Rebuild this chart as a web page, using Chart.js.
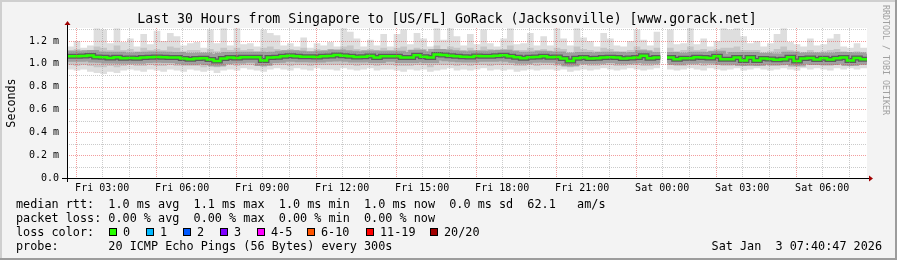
<!DOCTYPE html>
<html>
<head>
<meta charset="utf-8">
<script src="https://cdn.jsdelivr.net/npm/chart.js@4.4.1/dist/chart.umd.min.js"></script>
<style>
  html, body { margin: 0; padding: 0; background: #f3f3f3; }
  #chart { display: block; }
</style>
</head>
<body>
<canvas id="chart" width="897" height="260"></canvas>
<script>
// ─── Data (15 min bins, ms) ──────────────────────────────────────────────────

var startHour = 1.6797;   // Fri 01:40:47, hours from Fri 00:00
var endHour   = 31.6797;  // Sat 07:40:47
var binHours  = 0.25;

var medianRtt = [
  1.066,1.066,1.069,1.072,1.060,1.056,1.051,1.057,1.048,1.050,1.048,1.054,1.057,1.060,1.056,1.054,1.054,1.045,1.040,1.045,1.048,1.037,1.025,1.045,
  1.054,1.051,1.057,1.057,1.057,1.028,1.054,1.057,1.065,1.070,1.065,1.062,1.062,1.060,1.065,1.068,1.077,1.071,1.065,1.060,1.062,1.068,1.054,1.065,
  1.065,1.065,1.054,1.054,1.074,1.062,1.054,1.080,1.077,1.071,1.065,1.062,1.060,1.068,1.065,1.065,1.071,1.074,1.065,1.057,1.048,1.057,1.060,1.065,
  1.057,1.060,1.045,1.025,1.048,1.054,1.045,1.048,1.054,1.057,1.054,1.045,1.051,1.054,1.071,1.048,1.054,null,1.054,1.040,1.048,1.048,1.057,1.054,
  1.051,1.065,1.040,1.040,1.054,1.028,1.054,1.028,1.045,1.042,1.034,1.040,1.057,1.025,1.045,1.051,1.037,1.048,1.037,1.048,1.054,1.028,1.051,1.040
];

var maxRtt = [
  1.15,1.20,1.14,1.16,1.31,1.30,1.18,1.31,1.19,1.22,1.15,1.26,1.17,1.29,1.20,1.27,1.24,1.16,1.18,1.19,1.14,1.30,1.18,1.31,
  1.16,1.31,1.17,1.18,1.15,1.30,1.27,1.25,1.16,1.18,1.15,1.23,1.14,1.18,1.16,1.19,1.15,1.31,1.28,1.22,1.15,1.21,1.16,1.26,
  1.15,1.26,1.30,1.17,1.27,1.22,1.15,1.31,1.21,1.31,1.24,1.16,1.26,1.17,1.30,1.18,1.15,1.22,1.31,1.17,1.18,1.27,1.16,1.24,
  1.16,1.31,1.22,1.16,1.31,1.23,1.20,1.15,1.27,1.22,1.16,1.15,1.20,1.30,1.21,1.16,1.28,null,1.30,1.17,1.18,1.31,1.17,1.22,
  1.15,1.20,1.31,1.30,1.31,1.24,1.18,1.20,1.15,1.18,1.26,1.31,1.19,1.17,1.15,1.22,1.16,1.17,1.22,1.26,1.15,1.14,1.18,1.14
];

var minRtt = [
  0.95,0.94,0.95,0.93,0.92,0.91,0.93,0.92,0.94,0.95,0.94,0.93,0.95,0.94,0.93,0.95,0.94,0.93,0.95,0.94,0.93,0.94,0.92,0.94,
  0.95,0.94,0.96,0.95,0.94,0.93,0.95,0.96,0.95,0.94,0.96,0.95,0.94,0.96,0.95,0.95,0.94,0.96,0.95,0.94,0.95,0.96,0.94,0.95,
  0.95,0.94,0.93,0.95,0.94,0.95,0.93,0.94,0.95,0.96,0.94,0.95,0.94,0.95,0.96,0.94,0.95,0.94,0.95,0.93,0.94,0.95,0.94,0.95,
  0.95,0.94,0.95,0.93,0.94,0.95,0.94,0.95,0.96,0.95,0.94,0.95,0.96,0.95,0.94,0.95,0.96,null,0.95,0.94,0.95,0.96,0.95,0.94,
  0.96,0.95,0.94,0.95,0.96,0.94,0.95,0.96,0.95,0.94,0.95,0.96,0.95,0.94,0.96,0.95,0.96,0.95,0.94,0.96,0.95,0.96,0.95,0.96
];

var upperRtt = [
  1.12,1.13,1.11,1.12,1.15,1.14,1.12,1.16,1.12,1.13,1.11,1.14,1.12,1.13,1.12,1.15,1.14,1.11,1.12,1.12,1.10,1.13,1.11,1.14,
  1.12,1.14,1.12,1.13,1.11,1.14,1.15,1.13,1.12,1.13,1.12,1.14,1.11,1.13,1.12,1.13,1.12,1.15,1.16,1.13,1.12,1.13,1.12,1.14,
  1.12,1.14,1.15,1.12,1.14,1.13,1.11,1.16,1.13,1.15,1.14,1.12,1.14,1.12,1.15,1.13,1.12,1.13,1.16,1.12,1.12,1.14,1.12,1.13,
  1.11,1.14,1.13,1.10,1.15,1.13,1.12,1.11,1.14,1.13,1.11,1.11,1.12,1.15,1.13,1.11,1.14,null,1.14,1.11,1.12,1.15,1.12,1.13,
  1.11,1.13,1.14,1.14,1.15,1.12,1.12,1.12,1.10,1.11,1.13,1.15,1.12,1.11,1.10,1.12,1.10,1.11,1.12,1.13,1.11,1.10,1.11,1.10
];

var lowerRtt = [
  0.99,0.98,0.99,0.98,0.97,0.97,0.98,0.97,0.98,0.99,0.98,0.98,0.99,0.98,0.98,0.99,0.98,0.98,0.98,0.98,0.97,0.98,0.97,0.98,
  0.99,0.98,0.99,0.99,0.98,0.97,0.99,0.99,0.99,0.98,0.99,0.99,0.98,0.99,0.99,0.99,0.99,0.99,0.99,0.98,0.99,0.99,0.98,0.99,
  0.99,0.98,0.98,0.98,0.99,0.99,0.97,0.99,0.99,0.99,0.98,0.99,0.98,0.99,0.99,0.98,0.99,0.99,0.99,0.98,0.98,0.99,0.98,0.99,
  0.99,0.98,0.98,0.97,0.98,0.99,0.98,0.98,0.99,0.99,0.98,0.98,0.99,0.99,0.98,0.98,0.99,null,0.99,0.98,0.98,0.99,0.99,0.98,
  0.99,0.99,0.98,0.98,0.99,0.98,0.99,0.98,0.99,0.98,0.98,0.99,0.99,0.98,0.99,0.99,0.99,0.98,0.98,0.99,0.99,0.98,0.99,0.99
];

// ─── Axis ticks and texts ────────────────────────────────────────────────────

var xGridHours  = [2,3,4,5,6,7,8,9,10,11,12,13,14,15,16,17,18,19,20,21,22,23,24,25,26,27,28,29,30,31];
var xMajorHours = [2,5,8,11,14,17,20,23,26,29];
var xLabelHours = [3,6,9,12,15,18,21,24,27,30];
var xLabels     = ['Fri 03:00','Fri 06:00','Fri 09:00','Fri 12:00','Fri 15:00','Fri 18:00','Fri 21:00','Sat 00:00','Sat 03:00','Sat 06:00'];

var yGridValues = [0,0.1,0.2,0.3,0.4,0.5,0.6,0.7,0.8,0.9,1.0,1.1,1.2,1.3];
var yLabelValues = [0,0.2,0.4,0.6,0.8,1.0,1.2];
var yLabels      = ['0.0','0.2 m','0.4 m','0.6 m','0.8 m','1.0 m','1.2 m'];
var yMax = 1.313;

var titleText = 'Last 30 Hours from Singapore to [US/FL] GoRack (Jacksonville) [www.gorack.net]';
var sideText  = 'RRDTOOL / TOBI OETIKER';
var yTitle    = 'Seconds';
var legendLines = [
    'median rtt:  1.0 ms avg  1.1 ms max  1.0 ms min  1.0 ms now  0.0 ms sd  62.1   am/s',
    'packet loss: 0.00 % avg  0.00 % max  0.00 % min  0.00 % now',
    'loss color:',
    'probe:       20 ICMP Echo Pings (56 Bytes) every 300s'
];
var lossLabels = ['0','1','2','3','4-5','6-10','11-19','20/20'];
var lossColors = ['#26ff00','#00b8ff','#0059ff','#7e00ff','#ff00ff','#ff5500','#ff0000','#a10000'];
var stampText  = 'Sat Jan  3 07:40:47 2026';

// ─── Helpers ─────────────────────────────────────────────────────────────────

function binPoints(values) {
    var pts = [];
    values.forEach(function (v, k) {
        var x0 = startHour + k * binHours;
        pts.push({ x: x0, y: v });
        pts.push({ x: x0 + binHours, y: v });
    });
    return pts;
}

function near(list, v) {
    for (var i = 0; i < list.length; i++) if (Math.abs(list[i] - v) < 1e-6) return i;
    return -1;
}

var MONO = '"DejaVu Sans Mono", monospace';

// ─── rrdtool frame: background, grid, axes, texts ────────────────────────────

var rrdFrame = {
    id: 'rrdFrame',
    beforeDraw: function (chart) {
        var c = chart.ctx, a = chart.chartArea;
        c.save();
        c.fillStyle = '#f3f3f3';
        c.fillRect(0, 0, chart.width, chart.height);
        c.fillStyle = '#cfcfcf';
        c.fillRect(0, 0, chart.width, 2);
        c.fillRect(0, 0, 2, chart.height);
        c.fillStyle = '#9c9c9c';
        c.fillRect(0, chart.height - 2, chart.width, 2);
        c.fillRect(chart.width - 2, 0, 2, chart.height);
        c.fillStyle = '#ffffff';
        c.fillRect(a.left, a.top, a.right - a.left, a.bottom - a.top);
        c.restore();
    },
    afterDatasetsDraw: function (chart) {
        var c = chart.ctx, a = chart.chartArea;
        var xs = chart.scales.x, ys = chart.scales.y;
        c.save();
        c.lineWidth = 1;
        c.setLineDash([1, 1]);
        xGridHours.forEach(function (h) {
            var px = Math.round(xs.getPixelForValue(h)) + 0.5;
            c.strokeStyle = near(xMajorHours, h) >= 0 ? 'rgba(232,60,60,0.5)' : 'rgba(140,140,140,0.45)';
            c.beginPath(); c.moveTo(px, a.top); c.lineTo(px, a.bottom); c.stroke();
        });
        yGridValues.forEach(function (v) {
            var py = Math.round(ys.getPixelForValue(v)) + 0.5;
            c.strokeStyle = near(yLabelValues, v) >= 0 ? 'rgba(232,60,60,0.5)' : 'rgba(140,140,140,0.45)';
            c.beginPath(); c.moveTo(a.left, py); c.lineTo(a.right, py); c.stroke();
        });
        c.setLineDash([]);

        // axes
        var ax = Math.round(a.left) + 0.5, ay = Math.round(a.bottom) + 0.5;
        c.strokeStyle = '#000';
        c.beginPath(); c.moveTo(a.left - 5, ay); c.lineTo(a.right + 3, ay); c.stroke();
        c.beginPath(); c.moveTo(ax, a.bottom + 4); c.lineTo(ax, a.top - 4); c.stroke();
        c.fillStyle = '#a00000';
        c.beginPath(); c.moveTo(a.right + 2, ay - 3); c.lineTo(a.right + 6, ay); c.lineTo(a.right + 2, ay + 3); c.closePath(); c.fill();
        c.beginPath(); c.moveTo(ax - 3, a.top - 3); c.lineTo(ax, a.top - 7); c.lineTo(ax + 3, a.top - 3); c.closePath(); c.fill();
        c.restore();
    },
    afterDraw: function (chart) {
        var c = chart.ctx;
        c.save();
        c.fillStyle = '#000';
        c.textBaseline = 'alphabetic';

        c.font = '13.2px ' + MONO;
        c.textAlign = 'center';
        c.fillText(titleText, 447, 23);

        c.font = '11.7px ' + MONO;
        c.save();
        c.translate(15, 103);
        c.rotate(-Math.PI / 2);
        c.fillText(yTitle, 0, 0);
        c.restore();

        c.save();
        c.fillStyle = '#a0a0a0';
        c.font = '8.3px ' + MONO;
        c.translate(883, 60);
        c.rotate(Math.PI / 2);
        c.fillText(sideText, 0, 0);
        c.restore();

        c.font = '11.8px ' + MONO;
        c.textAlign = 'left';
        legendLines.forEach(function (line, i) {
            c.fillText(line, 16, 207.5 + i * 14);
        });

        var boxX = [109, 146, 183, 220, 257, 307, 366, 430];
        lossLabels.forEach(function (lab, i) {
            c.fillStyle = lossColors[i];
            c.fillRect(boxX[i], 228, 8, 8);
            c.strokeStyle = '#000';
            c.strokeRect(boxX[i] + 0.5, 228.5, 7, 7);
            c.fillStyle = '#000';
            c.fillText(lab, boxX[i] + 14, 235.5);
        });

        c.textAlign = 'right';
        c.fillText(stampText, 882, 249.5);
        c.restore();
    }
};

// ─── Chart ───────────────────────────────────────────────────────────────────

Chart.defaults.font.family = MONO;

new Chart(document.getElementById('chart'), {
    type: 'line',
    data: {
        datasets: [
            { data: binPoints(medianRtt), borderColor: '#26ff00', borderWidth: 2.5, fill: false },
            { data: binPoints(medianRtt), borderColor: 'rgba(50,50,50,0.6)', borderWidth: 5, fill: false },
            { data: binPoints(medianRtt), borderColor: 'rgba(110,110,110,0.45)', borderWidth: 11, fill: false },
            { data: binPoints(upperRtt), borderWidth: 0, borderColor: 'rgba(0,0,0,0)', backgroundColor: '#c6c6c6', fill: '+1' },
            { data: binPoints(lowerRtt), borderWidth: 0, borderColor: 'rgba(0,0,0,0)', fill: false },
            { data: binPoints(maxRtt), borderWidth: 0, borderColor: 'rgba(0,0,0,0)', backgroundColor: '#dedede', fill: '+1' },
            { data: binPoints(minRtt), borderWidth: 0, borderColor: 'rgba(0,0,0,0)', fill: false }
        ]
    },
    options: {
        responsive: false,
        animation: false,
        events: [],
        layout: { padding: { left: 0, top: 28, right: 30, bottom: 0 } },
        elements: { point: { radius: 0 }, line: { tension: 0, borderJoinStyle: 'miter', borderCapStyle: 'butt' } },
        plugins: { legend: { display: false }, tooltip: { enabled: false }, title: { display: false } },
        scales: {
            x: {
                type: 'linear',
                min: startHour,
                max: endHour,
                afterBuildTicks: function (s) { s.ticks = xGridHours.map(function (h) { return { value: h }; }); },
                afterFit: function (s) { s.height = 82; },
                grid: { display: false, drawTicks: false },
                border: { display: false },
                ticks: {
                    autoSkip: false, maxRotation: 0, padding: 4, color: '#000',
                    font: { size: 10, family: MONO },
                    callback: function (v) { var i = near(xLabelHours, v); return i >= 0 ? xLabels[i] : ''; }
                }
            },
            y: {
                min: 0,
                max: yMax,
                afterBuildTicks: function (s) { s.ticks = yGridValues.map(function (v) { return { value: v }; }); },
                afterFit: function (s) { s.width = 67; },
                grid: { display: false, drawTicks: false },
                border: { display: false },
                ticks: {
                    padding: 8, color: '#000',
                    font: { size: 10, family: MONO },
                    callback: function (v) { var i = near(yLabelValues, v); return i >= 0 ? yLabels[i] : ''; }
                }
            }
        }
    },
    plugins: [rrdFrame]
});
</script>
</body>
</html>
